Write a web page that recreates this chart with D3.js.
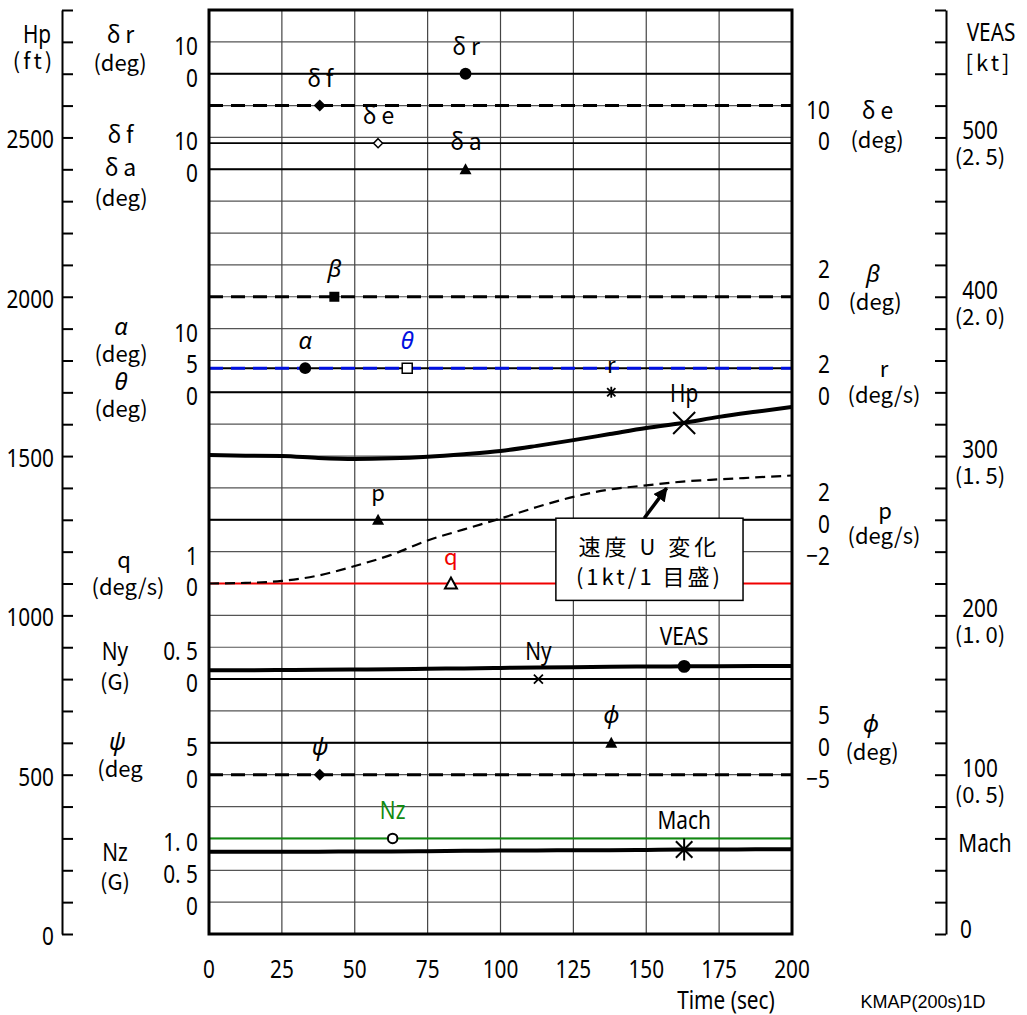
<!DOCTYPE html>
<html>
<head>
<meta charset="utf-8">
<script src="https://cdn.jsdelivr.net/npm/d3@7"></script>
<style>
body{margin:0;background:#fff;}
.num{font-family:"Noto Sans",sans-serif;font-size:26px;}
.lab{font-family:"Noto Sans CJK JP",sans-serif;font-size:22px;}
.gk{font-family:"Noto Sans CJK JP",sans-serif;font-size:23px;letter-spacing:5px;}
.gi{font-family:"Noto Sans","DejaVu Sans",sans-serif;font-style:italic;font-size:24px;}
</style>
</head>
<body>
<script>
const width = 1027, height = 1015;

// curves, read every 12.5 s
const time = [0,12.5,25,37.5,50,62.5,75,87.5,100,112.5,125,137.5,150,162.5,175,187.5,200];
const hpFt = [1503,1501,1500,1494,1491,1493,1498,1506,1516,1532,1550,1569,1588,1604,1623,1639,1654];
const veasKt = [165.6,165.6,165.7,165.8,166.0,166.2,166.5,166.7,167.0,167.3,167.5,167.7,167.9,168.0,168.1,168.2,168.3];
const machNo = [0.258,0.258,0.258,0.258,0.259,0.259,0.260,0.261,0.262,0.262,0.263,0.263,0.264,0.265,0.265,0.266,0.266];
const speedChangeKt = [0,0.02,0.08,0.25,0.55,0.9,1.35,1.7,2.04,2.4,2.72,2.95,3.08,3.2,3.27,3.33,3.39];

// steady parameters
const levelNames = ["δr","δf","δe","δa","β","α","θ","r","p","q","Ny","ϕ","ψ","Nz"];
const levelValues = [0,20,-1.8,0,0,3.8,3.8,0,0,0,0,0,0,1.0];
const markerTimes = [88,38,58,88,43,33,68,138,58,83,113,138,38,63];
const curveMarkerTime = 163;

const timeTicks = [0,25,50,75,100,125,150,175,200];
const hpTicks = d3.range(0,3000,100);
const veasTicks = d3.range(0,600,20);
const veasLabels = [0,100,200,300,400,500];

// channel layout: zero position (grid unit) and value per grid unit
const chan = {
  "δr":{zero:27,per:10,ticks:[0,10],side:"L"},
  "δf":{zero:24,per:10,ticks:[0,10],side:"L"},
  "δe":{zero:25,per:10,ticks:[0,10],side:"R"},
  "δa":{zero:24,per:10},
  "β":{zero:20,per:2,ticks:[0,2],side:"R"},
  "α":{zero:17,per:5,ticks:[0,5,10],side:"L"},
  "θ":{zero:17,per:5},
  "r":{zero:17,per:2,ticks:[0,2],side:"R"},
  "p":{zero:13,per:2,ticks:[-2,0,2],side:"R"},
  "q":{zero:11,per:1,ticks:[0,1],side:"L"},
  "Ny":{zero:8,per:0.5,ticks:[0,0.5],side:"L",fmt:d=>d===0?"0":"0. 5"},
  "ϕ":{zero:6,per:5,ticks:[-5,0,5],side:"R"},
  "ψ":{zero:5,per:5,ticks:[0,5],side:"L"},
  "Nz":{zero:1,per:0.5,ticks:[0,0.5,1],side:"L",fmt:d=>d===0?"0":d===1?"1. 0":"0. 5"},
  "Hp":{zero:0,per:100},
  "VEAS":{zero:0,per:20},
  "Mach":{zero:0,per:0.1},
  "dU":{zero:11,per:1}
};

const svg = d3.select("body").append("svg")
  .attr("width",width).attr("height",height);

const x = d3.scaleLinear().domain([0,200]).range([209,792]);
const yU = d3.scaleLinear().domain([0,29]).range([934,10]);
function yv(name,v){ const c = chan[name]; return yU(c.zero + v/c.per); }

// narrow number text
function num(g,txt,px,py,anchor,size,fill){
  return g.append("text").attr("class","num")
    .attr("transform",`translate(${px},${py}) scale(0.8,1)`)
    .attr("font-size",size||26)
    .attr("text-anchor",anchor||"middle").attr("dominant-baseline","central")
    .attr("fill",fill||"#000").text(txt);
}

// grid
const grid = svg.append("g");
grid.selectAll(".h").data(d3.range(1,29)).enter().append("line")
  .attr("x1",x(0)).attr("x2",x(200))
  .attr("y1",d=>yU(d)).attr("y2",d=>yU(d))
  .attr("stroke","#555").attr("stroke-width",1.2);
grid.selectAll(".v").data(timeTicks.slice(1,-1)).enter().append("line")
  .attr("x1",d=>x(d)).attr("x2",d=>x(d))
  .attr("y1",yU(0)).attr("y2",yU(29))
  .attr("stroke","#444").attr("stroke-width",1.2);

// steady parameter lines
const lineStyle = {
  "δr":{c:"#000",w:2},"δf":{c:"#000",w:3,d:"14,8"},"δe":{c:"#000",w:1.8},"δa":{c:"#000",w:2},
  "β":{c:"#000",w:3,d:"14,8"},"α":{c:"#000",w:2},"θ":{c:"#0010e0",w:3,d:"14,8"},
  "r":{c:"#000",w:2},"p":{c:"#000",w:2},"q":{c:"#f00000",w:2},"Ny":{c:"#000",w:2},
  "ϕ":{c:"#000",w:2},"ψ":{c:"#000",w:3,d:"14,8"},"Nz":{c:"#108a10",w:2}
};
const levels = levelNames.map((n,i)=>({name:n,value:levelValues[i],t:markerTimes[i]}));
svg.append("g").selectAll("line").data(levels).enter().append("line")
  .attr("x1",x(0)).attr("x2",x(200))
  .attr("y1",d=>yv(d.name,d.value)).attr("y2",d=>yv(d.name,d.value))
  .attr("stroke",d=>lineStyle[d.name].c)
  .attr("stroke-width",d=>lineStyle[d.name].w)
  .attr("stroke-dasharray",d=>lineStyle[d.name].d||null);

// curves
function curve(name,vals,w,dash){
  const line = d3.line().x((d,i)=>x(time[i])).y(d=>yv(name,d)).curve(d3.curveMonotoneX);
  svg.append("path").datum(vals).attr("d",line)
    .attr("fill","none").attr("stroke","#000").attr("stroke-width",w)
    .attr("stroke-dasharray",dash||null);
}
curve("dU",speedChangeKt,2.2,"10,6");
curve("Hp",hpFt,4);
curve("VEAS",veasKt,4);
curve("Mach",machNo,4);

// frame
svg.append("rect").attr("x",x(0)).attr("y",yU(29))
  .attr("width",x(200)-x(0)).attr("height",yU(0)-yU(29))
  .attr("fill","none").attr("stroke","#000").attr("stroke-width",3);

// markers
function xPath(s){ return `M${-s},${-s}L${s},${s}M${-s},${s}L${s},${-s}`; }
function starPath(s){ return xPath(s*0.75)+`M0,${-s}L0,${s}`; }
const tri = "M0,-6L6,5L-6,5Z";
const dia = s=>`M0,${-s}L${s},0L0,${s}L${-s},0Z`;
const sq = s=>`M${-s},${-s}H${s}V${s}H${-s}Z`;
const mk = {
  "δr":{p:d3.symbol(d3.symbolCircle,110)(),f:"#000"},
  "δf":{p:dia(6),f:"#000"},
  "δe":{p:dia(4.5),f:"#fff",s:"#000",w:1.5},
  "δa":{p:tri,f:"#000"},
  "β":{p:sq(5),f:"#000"},
  "α":{p:d3.symbol(d3.symbolCircle,110)(),f:"#000"},
  "θ":{p:sq(5),f:"#fff",s:"#000",w:1.5},
  "r":{p:starPath(5.5),f:"none",s:"#000",w:1.8},
  "p":{p:tri,f:"#000"},
  "q":{p:tri,f:"#fff",s:"#000",w:2},
  "Ny":{p:xPath(4.5),f:"none",s:"#000",w:1.8},
  "ϕ":{p:tri,f:"#000"},
  "ψ":{p:dia(6),f:"#000"},
  "Nz":{p:d3.symbol(d3.symbolCircle,70)(),f:"#fff",s:"#000",w:2}
};
const mg = svg.append("g");
levels.forEach(d=>{
  const m = mk[d.name];
  mg.append("path").attr("d",m.p)
    .attr("transform",`translate(${x(d.t)},${yv(d.name,d.value)})`)
    .attr("fill",m.f).attr("stroke",m.s||"none").attr("stroke-width",m.w||0);
});
const at = arr=>arr[time.indexOf(162.5)]; // value at the marker time
mg.append("path").attr("d",xPath(11))
  .attr("transform",`translate(${x(curveMarkerTime)},${yv("Hp",at(hpFt))})`)
  .attr("stroke","#000").attr("stroke-width",2).attr("fill","none");
mg.append("path").attr("d",d3.symbol(d3.symbolCircle,130)())
  .attr("transform",`translate(${x(curveMarkerTime)},${yv("VEAS",at(veasKt))})`)
  .attr("fill","#000");
mg.append("path").attr("d",starPath(11))
  .attr("transform",`translate(${x(curveMarkerTime)},${yv("Mach",at(machNo))})`)
  .attr("stroke","#000").attr("stroke-width",2).attr("fill","none");

// labels above markers
const labColor = {"θ":"#0010e0","q":"#f00000","Nz":"#108a10"};
const labClass = {"δr":"gk","δf":"gk","δe":"gk","δa":"gk","β":"gi","α":"gi","θ":"gi","ϕ":"gi","ψ":"gi",
  "r":"lab","p":"lab","q":"lab"};
const lg = svg.append("g");
levels.forEach(d=>{
  const ly = yv(d.name,d.value)-29;
  if(labClass[d.name]){
    lg.append("text").attr("class",labClass[d.name])
      .attr("x",x(d.t)+(labClass[d.name]==="gk"?3:0)).attr("y",ly)
      .attr("text-anchor","middle").attr("dominant-baseline","central")
      .attr("fill",labColor[d.name]||"#000").text(d.name);
  } else {
    num(lg,d.name,x(d.t),ly,"middle",25,labColor[d.name]);
  }
});
[["Hp",yv("Hp",at(hpFt))],["VEAS",yv("VEAS",at(veasKt))],["Mach",yv("Mach",at(machNo))]].forEach(d=>{
  num(lg,d[0],x(curveMarkerTime),d[1]-31,"middle",25);
});

// channel tick labels
const tg = svg.append("g");
Object.keys(chan).forEach(n=>{
  const c = chan[n];
  if(!c.ticks) return;
  c.ticks.forEach(v=>{
    num(tg,c.fmt?c.fmt(v):(v<0?"−"+(-v):String(v)),c.side==="L"?198:830,yv(n,v)+3,"end",26);
  });
});

// Hp axis (left)
const hpScale = d3.scaleLinear().domain([0,2900]).range([yU(0),yU(29)]);
svg.append("g").attr("transform","translate(62,0)")
  .call(d3.axisLeft(hpScale).tickValues(hpTicks).tickSizeInner(-11).tickSizeOuter(0).tickFormat(""))
  .call(g=>{
    g.select(".domain").attr("stroke-width",2);
    g.selectAll(".tick line").attr("stroke-width",2);
  });
hpTicks.filter(d=>d%500===0).forEach(d=>num(svg,d,54,hpScale(d)+1,"end",25));

// VEAS axis (right)
const veasScale = d3.scaleLinear().domain([0,580]).range([yU(0),yU(29)]);
svg.append("g").attr("transform","translate(946,0)")
  .call(d3.axisRight(veasScale).tickValues(veasTicks).tickSizeInner(-11).tickSizeOuter(0).tickFormat(""))
  .call(g=>{
    g.select(".domain").attr("stroke-width",2);
    g.selectAll(".tick line").attr("stroke-width",2);
  });
veasLabels.forEach(v=>{
  num(svg,v,v===0?966:980,veasScale(v)-(v===0?6:8),"middle",24);
  if(v>0) svg.append("text").attr("class","lab").attr("font-size",20)
    .attr("x",980).attr("y",veasScale(v)+18)
    .attr("text-anchor","middle").attr("dominant-baseline","central").text("("+(v/200).toFixed(1).replace(".",". ")+")");
});

// x axis labels
timeTicks.forEach(d=>num(svg,d,x(d),968,"middle",28));
num(svg,"Time (sec)",726,999,"middle",27);
svg.append("text").attr("x",923).attr("y",1002)
  .attr("font-family","Liberation Sans, Arial, sans-serif").attr("font-size",18)
  .attr("text-anchor","middle").attr("dominant-baseline","central").text("KMAP(200s)1D");

// side titles
const sideTexts = [
  ["Hp",37,33,"num"],["(ft)",34,59,"lab",3],
  ["δr",123,33,"gk"],["(deg)",120,61,"lab"],
  ["δf",123,133,"gk"],["δa",123,166,"gk"],["(deg)",121,196,"lab"],
  ["α",121,325,"gi"],["(deg)",121,352,"lab"],["θ",121,380,"gi"],["(deg)",121,407,"lab"],
  ["q",124,558,"lab"],["(deg/s)",128,585,"lab"],
  ["Ny",115,650,"num"],["(G)",115,680,"lab"],
  ["ψ",117,740,"gi"],["(deg",120,767,"lab"],
  ["Nz",115,851,"num"],["(G)",115,880,"lab"],
  ["δe",880,109,"gk"],["(deg)",877,138,"lab"],
  ["β",873,272,"gi"],["(deg)",875,300,"lab"],
  ["r",884,367,"lab"],["(deg/s)",884,393,"lab"],
  ["p",885,509,"lab"],["(deg/s)",884,534,"lab"],
  ["ϕ",871,722,"gi"],["(deg)",872,750,"lab"],
  ["VEAS",991,31,"num"],["[kt]",989,61,"lab",3],["Mach",985,842,"num"]
];
sideTexts.forEach(d=>{
  if(d[3]==="num") num(svg,d[0],d[1],d[2],"middle",26);
  else svg.append("text").attr("class",d[3]).attr("x",d[1]).attr("y",d[2])
    .attr("letter-spacing",d[4]||null)
    .attr("text-anchor","middle").attr("dominant-baseline","central").text(d[0]);
});

// callout for speed change
const bx0 = x(119), bx1 = x(183.2), by0 = yU(13.05), by1 = yU(10.47);
svg.append("defs").append("marker").attr("id","ah")
  .attr("viewBox","0 0 10 10").attr("refX",9).attr("refY",5)
  .attr("markerWidth",4).attr("markerHeight",4).attr("orient","auto")
  .append("path").attr("d","M0,0L10,5L0,10Z").attr("fill","#000");
svg.append("line").attr("x1",x(149.3)).attr("y1",by0)
  .attr("x2",x(157)).attr("y2",yv("dU",3.15)+5)
  .attr("stroke","#000").attr("stroke-width",3.5).attr("marker-end","url(#ah)");
svg.append("rect").attr("x",bx0).attr("y",by0).attr("width",bx1-bx0).attr("height",by1-by0)
  .attr("fill","#fff").attr("stroke","#000").attr("stroke-width",1.5);
svg.append("text").attr("class","lab").attr("x",(bx0+bx1)/2).attr("y",545)
  .attr("text-anchor","middle").attr("dominant-baseline","central")
  .attr("letter-spacing",4).text("速度 U 変化");
svg.append("text").attr("class","lab").attr("x",(bx0+bx1)/2).attr("y",575)
  .attr("text-anchor","middle").attr("dominant-baseline","central")
  .attr("letter-spacing",3).text("(1kt/1 目盛)");
</script>
</body>
</html>
